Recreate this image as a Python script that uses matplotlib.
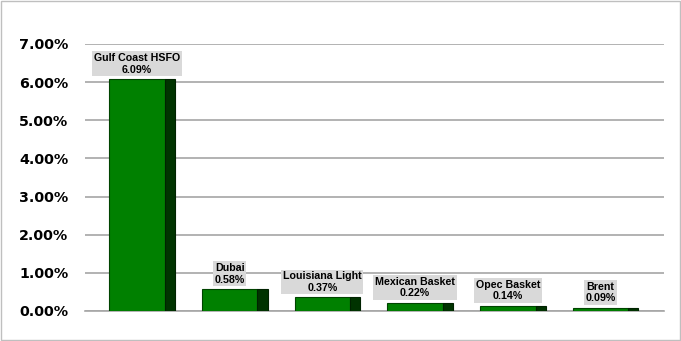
import matplotlib.pyplot as plt
from matplotlib.patches import Rectangle

# Data
categories = ["Gulf Coast HSFO", "Dubai", "Louisiana Light", "Mexican Basket", "Opec Basket", "Brent"]
values = [6.09, 0.58, 0.37, 0.22, 0.14, 0.09]
y_ticks = [0, 1, 2, 3, 4, 5, 6, 7]

fig = plt.figure(figsize=(6.81, 3.41), dpi=100)
ax = fig.add_axes([0.1248, 0.088, 0.8502, 0.783])

x = list(range(len(categories)))
front_w = 0.6
side_w = 0.11

# front face and darker side face
ax.bar(x, values, width=front_w, color="#008000", edgecolor="#004400",
       linewidth=0.8, zorder=3)
ax.bar([i + front_w / 2 + side_w / 2 for i in x], values, width=side_w,
       color="#003300", edgecolor="#002200", linewidth=0.8, zorder=3)

for i, v in enumerate(values):
    ax.annotate(f"{categories[i]}\n{v:.2f}%", xy=(i, v), xytext=(0, 3),
                textcoords="offset points", ha="center", va="bottom",
                fontsize=7.7, fontweight="bold", family="Liberation Sans",
                linespacing=1.2,
                bbox=dict(boxstyle="square,pad=0.15", facecolor="#d9d9d9",
                          edgecolor="none"), zorder=4)

ax.set_xlim(-0.56, 5.685)
ax.set_ylim(0, 7)
ax.set_yticks(y_ticks)
ax.set_yticklabels([f"{t:.2f}%" for t in y_ticks], fontsize=10.3, fontweight="bold")
ax.set_xticks([])
ax.tick_params(axis="y", length=0, pad=12)
ax.grid(axis="y", color="#a6a6a6", linewidth=1.2, zorder=0)
for s in ["left", "right", "top"]:
    ax.spines[s].set_visible(False)
ax.spines["bottom"].set_color("#a6a6a6")
ax.spines["bottom"].set_linewidth(1.2)

fig.patches.append(Rectangle((0.001, 0.002), 0.997, 0.995, transform=fig.transFigure,
                             fill=False, edgecolor="#bfbfbf", linewidth=1))

fig.savefig("out.png", dpi=100)
